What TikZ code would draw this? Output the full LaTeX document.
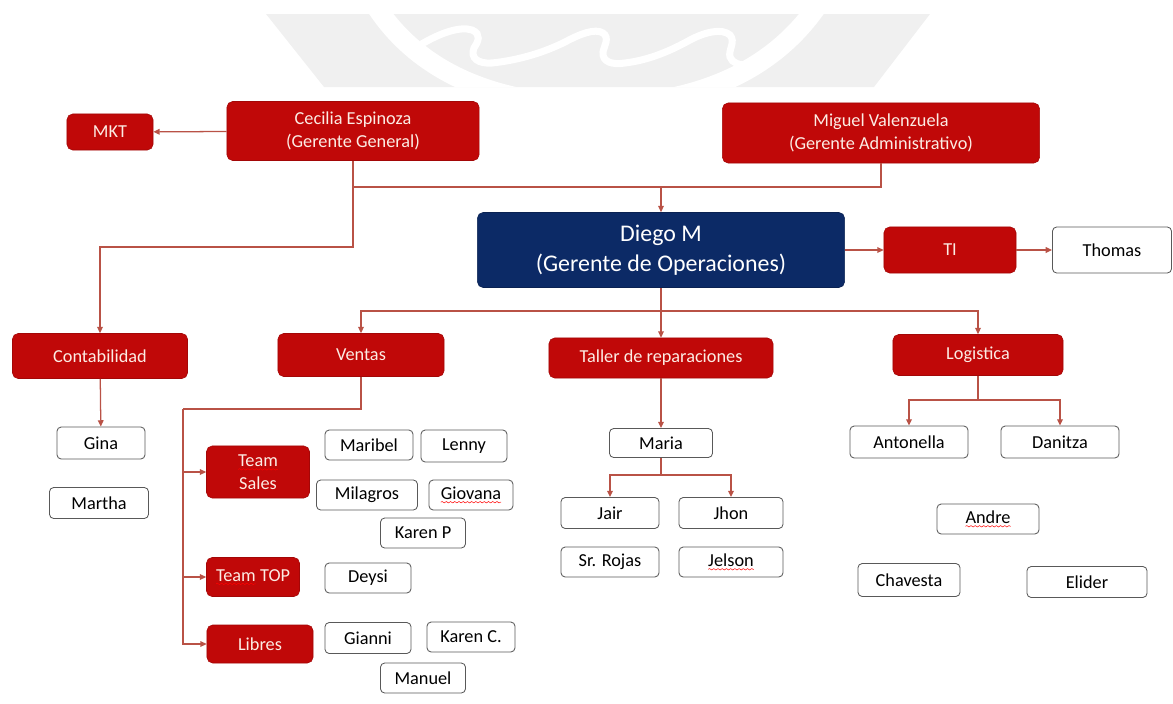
\documentclass[tikz,border=0pt]{standalone}
\usepackage{fontspec}
\setmainfont{Carlito}
\usetikzlibrary{arrows.meta,positioning,decorations.pathmorphing}
\definecolor{boxred}{RGB}{192,8,8}
\definecolor{navy}{RGB}{12,42,102}
\definecolor{wirecol}{RGB}{185,82,70}
\definecolor{redtxt}{RGB}{252,236,228}
% red wavy spell-check line under a word
\newcommand{\spell}[1]{\tikz[baseline=(w.base)]{\node[inner sep=0pt,outer sep=0pt,
    minimum width=0pt,minimum height=0pt,draw=none,fill=none] (w) {#1};
  \draw[red, line width=0.35pt, sharp corners, decorate,
        decoration={snake,amplitude=0.5pt,segment length=3pt}]
    ([yshift=-2pt]w.base west) -- ([yshift=-2pt]w.base east);}}
\tikzset{
  unit/.style  = {rectangle, rounded corners=4pt, fill=boxred, draw=boxred!85!black,
                  text=redtxt, align=center, inner sep=1pt,
                  font=\fontsize{13}{16}\selectfont},
  head/.style  = {unit, fill=navy, draw=navy!80!black, text=white,
                  font=\fontsize{17}{21}\selectfont},
  staff/.style = {rectangle, rounded corners=3pt, draw=black!65, fill=white,
                  line width=0.6pt, inner sep=1pt, font=\fontsize{13}{15}\selectfont},
  sz/.style 2 args = {minimum width=#1cm, minimum height=#2cm},
  wire/.style  = {draw=wirecol, line width=0.9pt},
  link/.style  = {wire, -{Triangle[length=4.5pt,width=4pt]}},
}

\begin{document}
\begin{tikzpicture}[x=0.025cm,y=-0.025cm]
  \useasboundingbox (0,0) rectangle (1173,704);
  % watermark
  \begin{scope}
    \clip (266,14) -- (930,14) -- (874,87) -- (324,87) -- cycle;
    \fill[gray!12] (250,0) rectangle (950,100);
    \draw[white, line width=14pt] (375,5) .. controls (420,75) and (500,105) .. (595,105)
      .. controls (690,105) and (770,75) .. (818,5);
    \draw[white, line width=5pt, line cap=round]
      (420,45) .. controls (440,33) and (460,26) .. (472,30)
      .. controls (482,34) and (478,42) .. (474,48)
      .. controls (470,58) and (478,64) .. (492,63)
      .. controls (520,60) and (545,52) .. (565,42)
      .. controls (580,34) and (595,28) .. (603,33)
      .. controls (610,38) and (604,46) .. (603,52)
      .. controls (602,62) and (612,65) .. (625,63)
      .. controls (650,60) and (672,50) .. (690,40)
      .. controls (705,32) and (722,28) .. (730,35)
      .. controls (736,42) and (728,50) .. (730,57)
      .. controls (732,63) and (740,66) .. (748,64);
  \end{scope}

  % top
  \node[unit,sz={2.15}{0.9}] (mkt) at (110,132) {MKT};
  \node[unit,sz={6.3}{1.475}] (cecilia) at (353,131) {Cecilia Espinoza\\(Gerente General)};
  \node[unit,sz={7.925}{1.5}] (miguel) at (881,133) {Miguel Valenzuela\\(Gerente Administrativo)};
  \node[head,sz={9.175}{1.875}] (diego) at (661,250) {Diego M\\(Gerente de Operaciones)};
  \node[unit,sz={3.3}{1.15}] (ti) at (950,250) {TI};
  \node[staff,sz={2.975}{1.15}] (thomas) at (1112,250) {Thomas};

  % areas
  \node[unit,sz={4.375}{1.125}] (conta) at (100,356) {Contabilidad};
  \node[unit,sz={4.15}{1.075}] (ventas) at (361,355) {Ventas};
  \node[unit,sz={5.6}{1.0}] (taller) at (661,358) {Taller de reparaciones};
  \node[unit,sz={4.25}{1.025}] (logis) at (978,355) {Logistica};

  % contabilidad
  \node[staff,sz={2.2}{0.8}] (gina) at (101,443) {Gina};
  \node[staff,sz={2.475}{0.775}] (martha) at (99,503) {Martha};

  % ventas
  \node[unit,sz={2.575}{1.3}] (tsales) at (258,472) {\spell{Team}\\Sales};
  \node[unit,sz={2.325}{0.975}] (ttop) at (253,577) {\spell{Team} TOP};
  \node[unit,sz={2.65}{0.95}] (libres) at (260,644) {Libres};
  \node[staff,sz={2.2}{0.75}] (maribel) at (369,445) {Maribel};
  \node[staff,sz={2.15}{0.8}] (lenny) at (464,446) {Lenny};
  \node[staff,sz={2.525}{0.75}] (milagros) at (367,495) {Milagros};
  \node[staff,sz={2.1}{0.75}] (giovana) at (471,495) {\spell{Giovana}};
  \node[staff,sz={2.125}{0.75}] (karenp) at (423,533) {Karen P};
  \node[staff,sz={2.15}{0.75}] (deysi) at (368,578) {Deysi};
  \node[staff,sz={2.15}{0.775}] (gianni) at (368,638) {Gianni};
  \node[staff,sz={2.2}{0.75}] (karenc) at (471,637) {Karen C.};
  \node[staff,sz={2.125}{0.75}] (manuel) at (423,678) {Manuel};

  % taller
  \node[staff,sz={2.575}{0.725}] (maria) at (661,443) {Maria};
  \node[staff,sz={2.45}{0.775}] (jair) at (610,513) {Jair};
  \node[staff,sz={2.6}{0.775}] (jhon) at (731,513) {Jhon};
  \node[staff,sz={2.45}{0.75}] (rojas) at (610,562) {Sr. Rojas};
  \node[staff,sz={2.6}{0.75}] (jelson) at (731,562) {\spell{Jelson}};

  % logistica
  \node[staff,sz={2.95}{0.8}] (antonella) at (909,442) {Antonella};
  \node[staff,sz={2.95}{0.8}] (danitza) at (1060,442) {Danitza};
  \node[staff,sz={2.55}{0.75}] (andre) at (988,519) {\spell{Andre}};
  \node[staff,sz={2.55}{0.825}] (chavesta) at (909,580) {Chavesta};
  \node[staff,sz={3.0}{0.775}] (elider) at (1087,582) {Elider};

  % edges
  \coordinate (topbus) at (661,187);
  \coordinate (cbend) at (353,247);
  \coordinate (opbus) at (661,311);
  \coordinate (vbend) at (183,409);
  \coordinate (mbus) at (661,475);
  \coordinate (lbus) at (978,400);
  \draw[link] (cecilia) -- (mkt);
  \draw[link] (cecilia.south) |- (topbus) -- (diego.north);
  \draw[wire] (miguel.south) |- (topbus);
  \draw[link] (cecilia.south) -- (cbend) -| (conta.north);
  \draw[link] (diego) -- (ti);
  \draw[link] (ti) -- (thomas);
  \draw[link] (diego.south) -- (taller.north);
  \draw[link] (opbus) -| (ventas.north);
  \draw[link] (opbus) -| (logis.north);
  \draw[link] (conta) -- (gina);
  \draw[wire] (ventas.south) |- (vbend);
  \draw[link] (vbend) |- (tsales.west);
  \draw[link] (vbend) |- (ttop.west);
  \draw[link] (vbend) |- (libres.west);
  \draw[link] (taller) -- (maria);
  \draw[wire] (maria) -- (mbus);
  \draw[link] (mbus) -| (jair.north);
  \draw[link] (mbus) -| (jhon.north);
  \draw[wire] (logis) -- (lbus);
  \draw[link] (lbus) -| (antonella.north);
  \draw[link] (lbus) -| (danitza.north);
\end{tikzpicture}
\end{document}
